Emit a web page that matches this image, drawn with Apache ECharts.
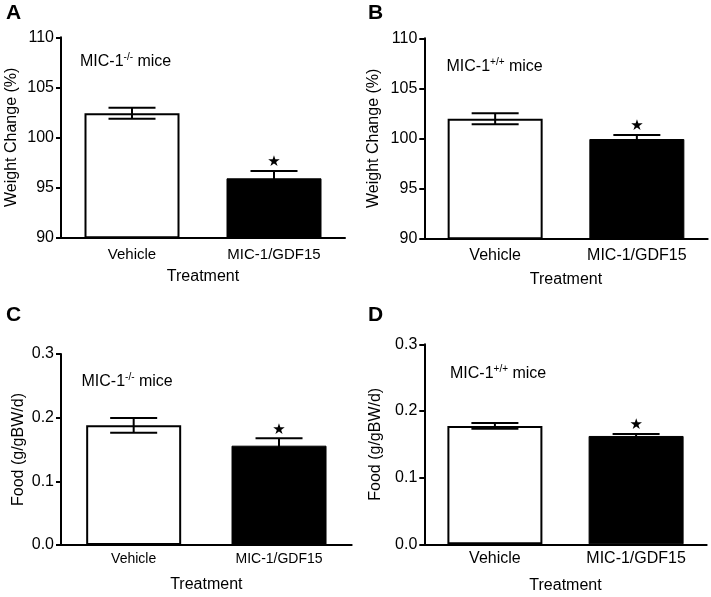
<!DOCTYPE html>
<html>
<head>
<meta charset="utf-8">
<script src="https://cdn.jsdelivr.net/npm/echarts@6/dist/echarts.min.js"></script>
<style>
html,body{margin:0;padding:0;background:#fff;}
#chart{width:711px;height:597px;}
</style>
</head>
<body>
<div id="chart"></div>
<script>
// ---- data ----
const categories = ['Vehicle', 'MIC-1/GDF15'];
const weightKOMean = [102.4, 95.9];
const weightKOErr = [0.55, 0.73];
const weightWTMean = [101.95, 99.93];
const weightWTErr = [0.55, 0.4];
const foodKOMean = [0.188, 0.156];
const foodKOErr = [0.0115, 0.0115];
const foodWTMean = [0.1775, 0.1625];
const foodWTErr = [0.0043, 0.003];
const significant = [0, 1];
const weightAxis = { min: 90, max: 110, interval: 5 };
const foodAxis = { min: 0, max: 0.3, interval: 0.1 };
const panelLetters = ['A', 'B', 'C', 'D'];
const genotypeKO = '-/-';
const genotypeWT = '+/+';
const weightName = 'Weight Change (%)';
const foodName = 'Food (g/gBW/d)';
const xName = 'Treatment';

const FONT = '"Liberation Sans", Arial, Helvetica, sans-serif';

const panels = [
  { mean: weightKOMean, err: weightKOErr, axis: weightAxis, name: weightName, geno: genotypeKO, dec: 0,
    grid: { left: 61, top: 37.3, right: 711 - 345, bottom: 597 - 237.3 },
    yGap: 41, xGap: 31, catSize: 15, catMargin: 10,
    letter: { left: 6, top: 3 }, inset: { left: 80, top: 52 } },
  { mean: weightWTMean, err: weightWTErr, axis: weightAxis, name: weightName, geno: genotypeWT, dec: 0,
    grid: { left: 424.3, top: 38.3, right: 711 - 707.7, bottom: 597 - 238.3 },
    yGap: 43, xGap: 33, catSize: 16, catMargin: 9,
    letter: { left: 368, top: 3 }, inset: { left: 446.5, top: 57 } },
  { mean: foodKOMean, err: foodKOErr, axis: foodAxis, name: foodName, geno: genotypeKO, dec: 1,
    grid: { left: 61, top: 354, right: 711 - 351.7, bottom: 52 },
    yGap: 34, xGap: 32, catSize: 14, catMargin: 7,
    letter: { left: 6, top: 305 }, inset: { left: 81.5, top: 372 } },
  { mean: foodWTMean, err: foodWTErr, axis: foodAxis, name: foodName, geno: genotypeWT, dec: 1,
    grid: { left: 424.3, top: 344.3, right: 711 - 706.7, bottom: 52.7 },
    yGap: 41, xGap: 33, catSize: 16, catMargin: 6,
    letter: { left: 368, top: 305 }, inset: { left: 450, top: 364 } }
];

function errRender(params, api) {
  const xi = api.value(0), mean = api.value(1), err = api.value(2), sig = api.value(3);
  const hi = api.coord([xi, mean + err]);
  const lo = api.coord([xi, mean - err]);
  const half = 23.5;
  const ls = { stroke: '#000', lineWidth: 2 };
  const children = [
    { type: 'line', shape: { x1: hi[0], y1: hi[1], x2: lo[0], y2: lo[1] }, style: ls },
    { type: 'line', shape: { x1: hi[0] - half, y1: hi[1], x2: hi[0] + half, y2: hi[1] }, style: ls },
    { type: 'line', shape: { x1: lo[0] - half, y1: lo[1], x2: lo[0] + half, y2: lo[1] }, style: ls }
  ];
  if (sig) {
    children.push({ type: 'text', style: { text: '\u2605', x: hi[0], y: hi[1] - 8.5, align: 'center', verticalAlign: 'middle',
      fontSize: 15, fill: '#000', fontFamily: '"DejaVu Sans", sans-serif' } });
  }
  return { type: 'group', children };
}

const option = { animation: false, backgroundColor: '#fff', grid: [], xAxis: [], yAxis: [], series: [], title: [] };

panels.forEach((p, i) => {
  option.grid.push(Object.assign({ containLabel: false }, p.grid));
  option.xAxis.push({
    type: 'category', gridIndex: i, data: categories,
    name: xName, nameLocation: 'middle', nameGap: p.xGap,
    nameTextStyle: { fontSize: 16, color: '#000', fontFamily: FONT },
    axisLine: { lineStyle: { color: '#000', width: 2 } },
    axisTick: { alignWithLabel: true, length: 5, lineStyle: { color: '#000', width: 2 } },
    axisLabel: { fontSize: p.catSize, color: '#000', fontFamily: FONT, margin: p.catMargin },
    splitLine: { show: false }
  });
  option.yAxis.push({
    type: 'value', gridIndex: i, min: p.axis.min, max: p.axis.max, interval: p.axis.interval,
    name: p.name, nameLocation: 'middle', nameGap: p.yGap, nameRotate: 90,
    nameTextStyle: { fontSize: 16, color: '#000', fontFamily: FONT },
    axisLine: { show: true, lineStyle: { color: '#000', width: 2 } },
    axisTick: { show: true, length: 5, lineStyle: { color: '#000', width: 2 } },
    axisLabel: { fontSize: 16, color: '#000', fontFamily: FONT, margin: 7,
      formatter: v => Number(v).toFixed(p.dec) },
    splitLine: { show: false }
  });
  option.series.push({
    type: 'bar', xAxisIndex: i, yAxisIndex: i, barWidth: 95, z: 2,
    data: p.mean.map((v, j) => ({
      value: v,
      itemStyle: j === 0 ? { color: '#fff', borderColor: '#000', borderWidth: 2 } : { color: '#000', borderColor: '#000', borderWidth: 1 }
    }))
  });
  option.series.push({
    type: 'custom', xAxisIndex: i, yAxisIndex: i, z: 5, renderItem: errRender,
    data: p.mean.map((v, j) => [j, v, p.err[j], significant[j]])
  });
  option.title.push({
    text: panelLetters[i], left: p.letter.left, top: p.letter.top, padding: 0,
    textStyle: { fontSize: 21, fontWeight: 'bold', color: '#000', fontFamily: FONT }
  });
  option.title.push({
    text: '{a|MIC-1}{s|' + p.geno + '}{a| mice}', left: p.inset.left, top: p.inset.top, padding: 0,
    textStyle: {
      fontWeight: 'normal',
      rich: {
        a: { fontSize: 16, fontWeight: 'normal', color: '#000', fontFamily: FONT, lineHeight: 18, verticalAlign: 'bottom' },
        s: { fontSize: 10, fontWeight: 'normal', color: '#000', fontFamily: FONT, lineHeight: 11, verticalAlign: 'top' }
      }
    }
  });
});

const chart = echarts.init(document.getElementById('chart'), null, { renderer: 'canvas' });
chart.setOption(option);
</script>
</body>
</html>
